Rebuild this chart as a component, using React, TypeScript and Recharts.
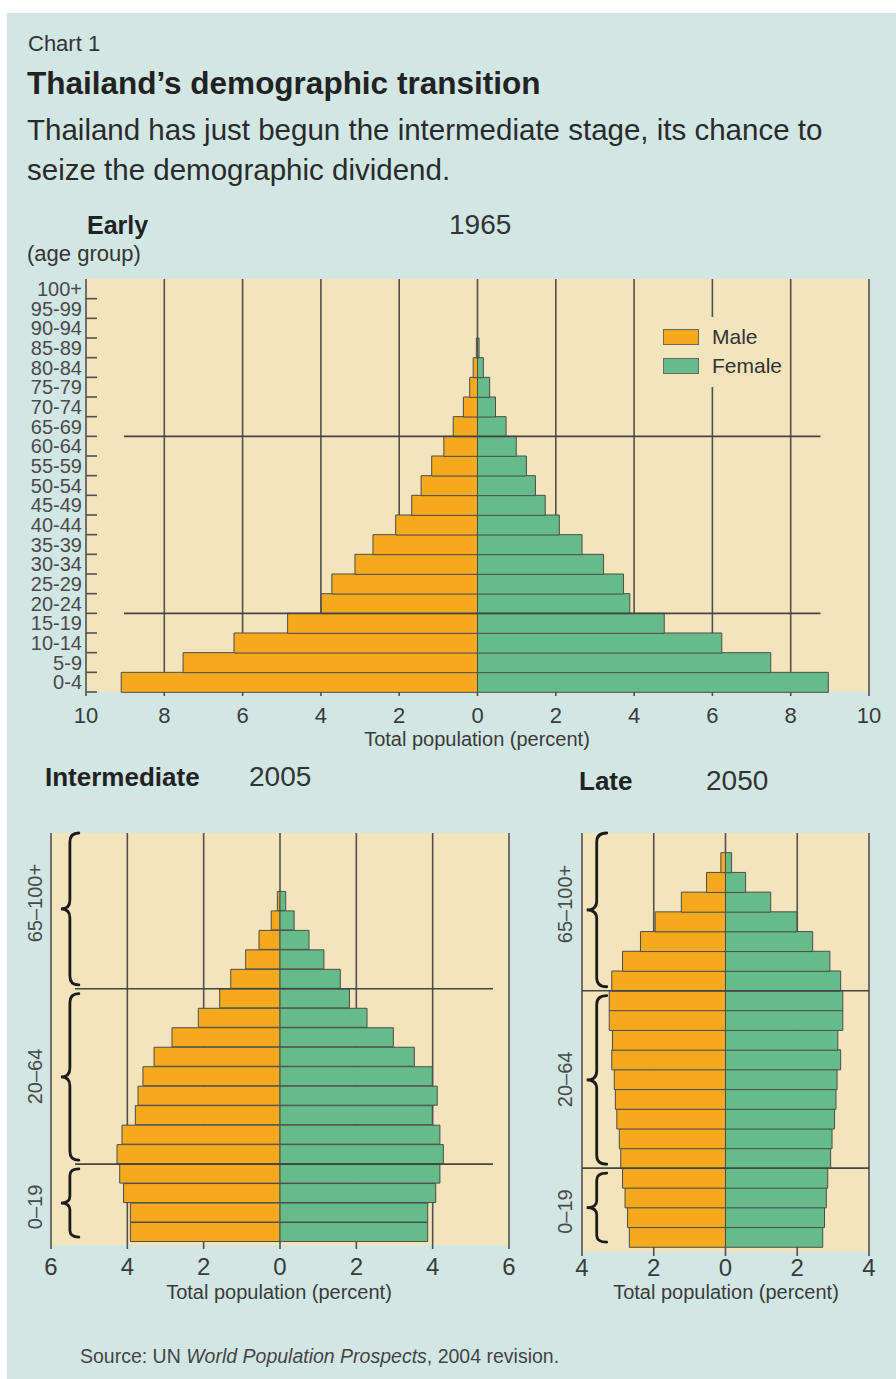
import React from "react";
import {
  BarChart,
  Bar,
  XAxis,
  YAxis,
  CartesianGrid,
  ReferenceLine,
  ReferenceArea,
  Legend,
} from "recharts";

// ---------------- data ----------------
const ageGroups = [
  "0-4", "5-9", "10-14", "15-19", "20-24", "25-29", "30-34", "35-39", "40-44",
  "45-49", "50-54", "55-59", "60-64", "65-69", "70-74", "75-79", "80-84",
  "85-89", "90-94", "95-99", "100+",
];

const male1965 = [9.1, 7.52, 6.22, 4.85, 3.99, 3.72, 3.13, 2.67, 2.09, 1.68, 1.44, 1.17, 0.86, 0.62, 0.36, 0.2, 0.11, 0.03, 0, 0, 0];
const female1965 = [8.96, 7.49, 6.24, 4.77, 3.89, 3.73, 3.22, 2.67, 2.09, 1.73, 1.48, 1.25, 0.99, 0.73, 0.46, 0.31, 0.15, 0.04, 0, 0, 0];

const male2005 = [3.92, 3.92, 4.1, 4.2, 4.27, 4.14, 3.79, 3.72, 3.59, 3.3, 2.83, 2.14, 1.58, 1.29, 0.9, 0.55, 0.23, 0.07, 0, 0, 0];
const female2005 = [3.87, 3.87, 4.08, 4.19, 4.28, 4.19, 3.99, 4.12, 3.99, 3.52, 2.97, 2.28, 1.82, 1.58, 1.15, 0.76, 0.37, 0.15, 0, 0, 0];

const male2050 = [2.68, 2.73, 2.8, 2.87, 2.92, 2.96, 3.03, 3.07, 3.1, 3.17, 3.15, 3.24, 3.24, 3.17, 2.87, 2.37, 1.96, 1.23, 0.53, 0.13, 0];
const female2050 = [2.71, 2.76, 2.81, 2.85, 2.93, 2.97, 3.04, 3.08, 3.11, 3.21, 3.13, 3.27, 3.27, 3.21, 2.91, 2.43, 1.99, 1.26, 0.56, 0.17, 0];

const ticks1965 = [-10, -8, -6, -4, -2, 0, 2, 4, 6, 8, 10];
const ticks2005 = [-6, -4, -2, 0, 2, 4, 6];
const ticks2050 = [-4, -2, 0, 2, 4];

// broad age groups (in band-index units, 0 = bottom of 0-4, 21 = top of 100+)
const groupNames = ["0–19", "20–64", "65–100+"];
const groupStart = [0, 4, 13];
const groupEnd = [4, 13, 21];
const groupLabelPos = [1.8, 8.5, 17.4];
const groupBoundaries = [4, 13];

// extents of separator lines / brace columns (data units of the x axis)
const sepSpan1965 = [-9.03, 8.76];
const sepSpan2005 = [-5.37, 5.58];
const sepSpan2050 = [-4, 4];
const brace2005 = [-5.74, -5.27];
const brace2050 = [-3.87, -3.31];

const seriesNames = ["Male", "Female"];

// ---------------- styles ----------------
const FONT = "'Liberation Sans', Arial, Helvetica, sans-serif";
const TEAL = "#d2e7e4";
const BEIGE = "#f4e4bc";
const ORANGE = "#f5aa1e";
const GREEN = "#65bb89";
const GRID = "#505050";
const BAR_STROKE = "#4d4d4d";
const AXIS_TEXT = "#4a4a4a";
const DARK = "#222222";

const build = (m: number[], f: number[]) =>
  ageGroups.map((age, i) => ({ age, pos: i + 0.5, male: -m[i], female: f[i] }));

const data1965 = build(male1965, female1965);
const data2005 = build(male2005, female2005);
const data2050 = build(male2050, female2050);

const absFmt = (v: number) => String(Math.abs(v));

// top chart geometry
const TOP_LEFT_AXIS = 86;
const TOP_PLOT_H = 413;
const TOP_BAND = TOP_PLOT_H / ageGroups.length;

const AgeTick = (props: any) => {
  const { y, payload } = props;
  const lowY = y + TOP_BAND / 2;
  return (
    <g>
      <text
        x={TOP_LEFT_AXIS - 4}
        y={y}
        dy="0.36em"
        textAnchor="end"
        fontSize={20}
        fill={AXIS_TEXT}
        fontFamily={FONT}
      >
        {payload.value}
      </text>
      <line x1={TOP_LEFT_AXIS} x2={TOP_LEFT_AXIS + 11} y1={lowY} y2={lowY} stroke={GRID} strokeWidth={1.6} />
    </g>
  );
};

const makeGroupTick = (labelX: number) => (props: any) => {
  const { y, payload } = props;
  const idx = groupLabelPos.indexOf(payload.value);
  if (idx < 0) return <g />;
  return (
    <text
      x={labelX}
      y={y}
      dy="0.36em"
      transform={`rotate(-90 ${labelX} ${y})`}
      textAnchor="middle"
      fontSize={20}
      fill={AXIS_TEXT}
      fontFamily={FONT}
    >
      {groupNames[idx]}
    </text>
  );
};

const Brace = (props: any) => {
  const { x, y, width: w, height: h } = props;
  if (w == null || h == null) return <g />;
  const m = x + w * 0.5;
  const r = Math.min(9, h * 0.1);
  const c = y + h / 2;
  const d = `M${x + w},${y} Q${m},${y} ${m},${y + r} L${m},${c - r} Q${m},${c} ${x},${c} Q${m},${c} ${m},${c + r} L${m},${y + h - r} Q${m},${y + h} ${x + w},${y + h}`;
  return <path d={d} fill="none" stroke="#1c1c1c" strokeWidth={2.8} strokeLinecap="round" />;
};

const LegendBox = () => (
  <div style={{ paddingTop: 5, fontFamily: FONT }}>
    {seriesNames.map((name, i) => (
      <div key={name} style={{ display: "flex", alignItems: "center", height: 29 }}>
        <div
          style={{
            width: 34,
            height: 14,
            marginLeft: 8,
            background: i === 0 ? ORANGE : GREEN,
            border: "1px solid #6a6a6a",
          }}
        />
        <span style={{ marginLeft: 13, fontSize: 21, color: "#333" }}>{name}</span>
      </div>
    ))}
  </div>
);

const Txt = ({ left, top, size, bold, children, color, width, align }: any) => (
  <div
    style={{
      position: "absolute",
      left,
      top,
      fontSize: size,
      lineHeight: 1,
      fontWeight: bold ? 700 : 400,
      color: color || DARK,
      whiteSpace: "nowrap",
      width,
      textAlign: align,
    }}
  >
    {children}
  </div>
);

export default function App() {
  return (
    <div
      style={{
        position: "absolute",
        left: 0,
        top: 0,
        width: 896,
        height: 1379,
        background: "#ffffff",
        fontFamily: FONT,
        overflow: "hidden",
      }}
    >
      <div style={{ position: "absolute", left: 7, top: 13, right: 0, bottom: 0, background: TEAL }} />

      <Txt left={28} top={33} size={22} color="#333">Chart 1</Txt>
      <Txt left={27} top={68} size={31.5} bold>Thailand’s demographic transition</Txt>
      <div
        style={{
          position: "absolute",
          left: 27,
          top: 110,
          fontSize: 29.5,
          lineHeight: "40px",
          color: "#2a2a2a",
          whiteSpace: "nowrap",
        }}
      >
        Thailand has just begun the intermediate stage, its chance to
        <br />
        seize the demographic dividend.
      </div>

      <Txt left={87} top={213} size={25} bold>Early</Txt>
      <Txt left={449} top={211} size={28} color="#333">1965</Txt>
      <Txt left={27} top={243} size={22} color="#333">(age group)</Txt>

      <Txt left={45} top={764} size={26} bold>Intermediate</Txt>
      <Txt left={249} top={763} size={28} color="#333">2005</Txt>
      <Txt left={579} top={768} size={26} bold>Late</Txt>
      <Txt left={706} top={767} size={28} color="#333">2050</Txt>

      {/* Top chart: 1965 */}
      <div style={{ position: "absolute", left: 0, top: 260 }}>
        <BarChart
          width={896}
          height={470}
          data={data1965}
          layout="vertical"
          stackOffset="sign"
          barCategoryGap={0}
          barGap={0}
          margin={{ top: 19, right: 27, bottom: 8, left: 0 }}
        >
          <CartesianGrid horizontal={false} vertical stroke={GRID} strokeWidth={1.6} fill={BEIGE} fillOpacity={1} />
          <XAxis
            type="number"
            domain={[-10, 10]}
            ticks={ticks1965}
            tickFormatter={absFmt}
            axisLine={false}
            tickLine={{ stroke: GRID, strokeWidth: 1.6 }}
            tickSize={4}
            tickMargin={11}
            height={30}
            tick={{ fontSize: 22, fill: "#3a3a3a" }}
            interval={0}
          />
          <YAxis
            type="category"
            dataKey="age"
            reversed
            width={86}
            axisLine={false}
            tickLine={false}
            interval={0}
            tick={AgeTick}
          />
          <YAxis yAxisId="idx" type="number" dataKey="pos" domain={[0, 21]} allowDataOverflow reversed hide />
          <Bar dataKey="male" name={seriesNames[0]} stackId="a" fill={ORANGE} stroke={BAR_STROKE} strokeWidth={1} isAnimationActive={false} />
          <Bar dataKey="female" name={seriesNames[1]} stackId="a" fill={GREEN} stroke={BAR_STROKE} strokeWidth={1} isAnimationActive={false} />
          {groupBoundaries.map((b) => (
            <ReferenceLine
              key={b}
              yAxisId="idx"
              segment={[
                { x: sepSpan1965[0], y: b },
                { x: sepSpan1965[1], y: b },
              ]}
              stroke="#444"
              strokeWidth={1.6}
            />
          ))}
          <Legend
            layout="horizontal"
            verticalAlign="middle"
            align="center"
            content={() => <LegendBox />}
            wrapperStyle={{ left: 655, top: 57, width: 132, height: 70, background: BEIGE }}
          />
        </BarChart>
      </div>
      <Txt left={277} top={729} size={20} color="#3a3a3a" width={400} align="center">
        Total population (percent)
      </Txt>

      {/* Bottom-left: 2005 */}
      <div style={{ position: "absolute", left: 0, top: 820 }}>
        <BarChart
          width={520}
          height={460}
          data={data2005}
          layout="vertical"
          stackOffset="sign"
          barCategoryGap={0}
          barGap={0}
          margin={{ top: 13, right: 11, bottom: 5, left: 0 }}
        >
          <CartesianGrid horizontal={false} vertical stroke={GRID} strokeWidth={1.6} fill={BEIGE} fillOpacity={1} />
          <XAxis
            type="number"
            domain={[-6, 6]}
            ticks={ticks2005}
            tickFormatter={absFmt}
            axisLine={false}
            tickLine={{ stroke: GRID, strokeWidth: 1.6 }}
            tickSize={4}
            tickMargin={9}
            height={30}
            tick={{ fontSize: 24, fill: "#3a3a3a" }}
            interval={0}
          />
          <YAxis type="category" dataKey="age" reversed hide padding={{ top: 0, bottom: 3 }} />
          <YAxis
            yAxisId="grp"
            type="number"
            dataKey="pos"
            domain={[0, 21]}
            allowDataOverflow
            reversed
            width={51}
            ticks={groupLabelPos}
            axisLine={false}
            tickLine={false}
            interval={0}
            padding={{ top: 0, bottom: 3 }}
            tick={makeGroupTick(35)}
          />
          <Bar dataKey="male" name={seriesNames[0]} stackId="a" fill={ORANGE} stroke={BAR_STROKE} strokeWidth={1} isAnimationActive={false} />
          <Bar dataKey="female" name={seriesNames[1]} stackId="a" fill={GREEN} stroke={BAR_STROKE} strokeWidth={1} isAnimationActive={false} />
          {groupBoundaries.map((b) => (
            <ReferenceLine
              key={b}
              yAxisId="grp"
              segment={[
                { x: sepSpan2005[0], y: b },
                { x: sepSpan2005[1], y: b },
              ]}
              stroke="#444"
              strokeWidth={1.6}
            />
          ))}
          {groupNames.map((g, i) => (
            <ReferenceArea
              key={g}
              yAxisId="grp"
              x1={brace2005[0]}
              x2={brace2005[1]}
              y1={groupStart[i] + (i === 0 ? 0.25 : 0.2)}
              y2={i === 2 ? groupEnd[i] : groupEnd[i] - 0.25}
              shape={Brace}
              ifOverflow="visible"
            />
          ))}
        </BarChart>
      </div>
      <Txt left={79} top={1282} size={20} color="#3a3a3a" width={400} align="center">
        Total population (percent)
      </Txt>

      {/* Bottom-right: 2050 */}
      <div style={{ position: "absolute", left: 540, top: 820 }}>
        <BarChart
          width={356}
          height={470}
          data={data2050}
          layout="vertical"
          stackOffset="sign"
          barCategoryGap={0}
          barGap={0}
          margin={{ top: 13, right: 27, bottom: 8, left: 0 }}
        >
          <CartesianGrid horizontal={false} vertical stroke={GRID} strokeWidth={1.6} fill={BEIGE} fillOpacity={1} />
          <XAxis
            type="number"
            domain={[-4, 4]}
            ticks={ticks2050}
            tickFormatter={absFmt}
            axisLine={false}
            tickLine={{ stroke: GRID, strokeWidth: 1.6 }}
            tickSize={4}
            tickMargin={3}
            height={30}
            tick={{ fontSize: 24, fill: "#3a3a3a" }}
            interval={0}
          />
          <YAxis type="category" dataKey="age" reversed hide padding={{ top: 0, bottom: 5 }} />
          <YAxis
            yAxisId="grp"
            type="number"
            dataKey="pos"
            domain={[0, 21]}
            allowDataOverflow
            reversed
            width={42}
            ticks={groupLabelPos}
            axisLine={false}
            tickLine={false}
            interval={0}
            padding={{ top: 0, bottom: 5 }}
            tick={makeGroupTick(25)}
          />
          <Bar dataKey="male" name={seriesNames[0]} stackId="a" fill={ORANGE} stroke={BAR_STROKE} strokeWidth={1} isAnimationActive={false} />
          <Bar dataKey="female" name={seriesNames[1]} stackId="a" fill={GREEN} stroke={BAR_STROKE} strokeWidth={1} isAnimationActive={false} />
          {groupBoundaries.map((b) => (
            <ReferenceLine
              key={b}
              yAxisId="grp"
              segment={[
                { x: sepSpan2050[0], y: b },
                { x: sepSpan2050[1], y: b },
              ]}
              stroke="#444"
              strokeWidth={1.6}
            />
          ))}
          {groupNames.map((g, i) => (
            <ReferenceArea
              key={g}
              yAxisId="grp"
              x1={brace2050[0]}
              x2={brace2050[1]}
              y1={groupStart[i] + (i === 0 ? 0.25 : 0.2)}
              y2={i === 2 ? groupEnd[i] : groupEnd[i] - 0.25}
              shape={Brace}
              ifOverflow="visible"
            />
          ))}
        </BarChart>
      </div>
      <Txt left={526} top={1282} size={20} color="#3a3a3a" width={400} align="center">
        Total population (percent)
      </Txt>

      <div
        style={{
          position: "absolute",
          left: 80,
          top: 1347,
          fontSize: 19.5,
          lineHeight: 1,
          color: "#444",
          whiteSpace: "nowrap",
        }}
      >
        Source: UN <i>World Population Prospects</i>, 2004 revision.
      </div>
    </div>
  );
}
